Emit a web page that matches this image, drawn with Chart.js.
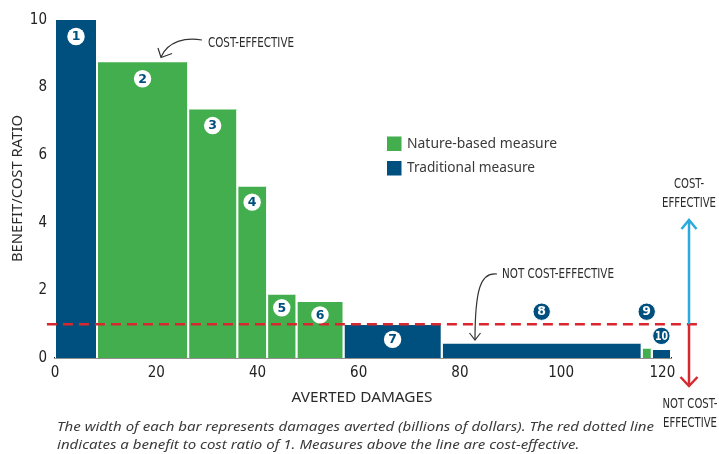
<!DOCTYPE html>
<html>
<head>
<meta charset="utf-8">
<script src="https://cdn.jsdelivr.net/npm/chart.js@4/dist/chart.umd.min.js"></script>
<style>
  html, body { margin: 0; padding: 0; background: #ffffff; }
  #wrap { width: 719px; height: 454px; }
</style>
</head>
<body>
<div id="wrap"><canvas id="c" width="719" height="454"></canvas></div>
<script>
// ---- data ----
const measureLabels = ['1', '2', '3', '4', '5', '6', '7', '8', '9', '10'];
const avertedDamages = [8.3, 18.0, 9.7, 5.9, 5.8, 9.3, 19.4, 39.5, 2.0, 3.8]; // bar widths (billions $)
const benefitCostRatio = [10, 8.75, 7.35, 5.07, 1.87, 1.66, 0.98, 0.42, 0.27, 0.24];
const measureType = ['traditional', 'nature', 'nature', 'nature', 'nature', 'nature', 'traditional', 'traditional', 'nature', 'traditional'];
const xTicks = [0, 20, 40, 60, 80, 100, 120];
const yTicks = [0, 2, 4, 6, 8, 10];
const breakEvenRatio = 1;
const typeNames = { nature: 'Nature-based measure', traditional: 'Traditional measure' };

// ---- styles ----
const GREEN = '#43ae4d';
const BLUE = '#00507f';
const RED = '#d7282f';
const LIGHTBLUE = '#2aa9df';
const TEXT = '#2b2b2b';
const COND = "'Liberation Sans Narrow', 'DejaVu Sans Condensed', 'Roboto Condensed', sans-serif";
const SANS = "'Noto Sans', 'Open Sans', sans-serif";

// cumulative starts
const starts = [];
let acc = 0;
for (let i = 0; i < avertedDamages.length; i++) { starts.push(acc); acc += avertedDamages[i]; }
const xMax = acc;

const barDatasets = avertedDamages.map((w, i) => {
  const x0 = starts[i], x1 = starts[i] + w, h = benefitCostRatio[i];
  const col = measureType[i] === 'nature' ? GREEN : BLUE;
  return {
    label: typeNames[measureType[i]],
    data: [{ x: x0, y: 0 }, { x: x0, y: h }, { x: x1, y: h }, { x: x1, y: 0 }],
    backgroundColor: col,
    borderColor: '#ffffff',
    borderWidth: 2,
    fill: 'origin',
    pointRadius: 0,
    tension: 0,
    segment: { borderColor: ctx => ctx.p0DataIndex === 1 ? 'rgba(0,0,0,0)' : '#ffffff' },
    order: 2
  };
});

const refLine = {
  label: 'Benefit/cost = 1',
  data: [{ x: -1.6, y: breakEvenRatio }, { x: 126.9, y: breakEvenRatio }],
  borderColor: RED,
  borderWidth: 2.5,
  borderDash: [10, 6],
  pointRadius: 0,
  fill: false,
  clip: false,
  order: 1
};

// badge styles: vertical offset (px) from bar top, and variant
const badgeStyle = [
  { dy: 16.5, inv: false }, { dy: 16.5, inv: false }, { dy: 16, inv: false }, { dy: 15.5, inv: false },
  { dy: 13, inv: false }, { dy: 13, inv: false }, { dy: 14.5, inv: false },
  { above: 12.5, inv: true }, { above: 12.5, inv: true }, { dy: -14, inv: true }
];

function textW(ctx, text, x, y, w, align) {
  const m = ctx.measureText(text).width;
  const s = w / m;
  ctx.save();
  ctx.translate(x, y);
  ctx.scale(s, 1);
  ctx.textAlign = align || 'left';
  ctx.fillText(text, 0, 0);
  ctx.restore();
}

function arrowHead(ctx, pts) {
  ctx.beginPath();
  ctx.moveTo(pts[0][0], pts[0][1]);
  ctx.lineTo(pts[1][0], pts[1][1]);
  ctx.lineTo(pts[2][0], pts[2][1]);
  ctx.stroke();
}

const decor = {
  id: 'decor',
  afterDatasetsDraw(chart) {
    const ctx = chart.ctx;
    const xs = chart.scales.x, ys = chart.scales.y;
    // badges
    ctx.save();
    measureLabels.forEach((lab, i) => {
      const st = badgeStyle[i];
      const cx = xs.getPixelForValue(starts[i] + avertedDamages[i] / 2);
      let cy;
      if (st.above !== undefined) cy = ys.getPixelForValue(breakEvenRatio) - st.above;
      else cy = ys.getPixelForValue(benefitCostRatio[i]) + st.dy;
      ctx.beginPath();
      ctx.arc(cx, cy, 8.7, 0, Math.PI * 2);
      ctx.fillStyle = st.inv ? BLUE : '#ffffff';
      ctx.fill();
      if (st.inv) { ctx.lineWidth = 1; ctx.strokeStyle = '#ffffff'; ctx.stroke(); }
      ctx.fillStyle = st.inv ? '#ffffff' : BLUE;
      ctx.font = "bold 12.5px 'DejaVu Sans', sans-serif";
      ctx.textAlign = 'center';
      ctx.textBaseline = 'middle';
      if (lab.length > 1) textW(ctx, lab, cx, cy + 0.5, 13, 'center');
      else ctx.fillText(lab, cx, cy + 0.5);
    });
    ctx.restore();
  },
  afterDraw(chart) {
    const ctx = chart.ctx;
    ctx.save();
    ctx.fillStyle = TEXT;
    ctx.textBaseline = 'middle';

    // axis titles
    ctx.font = "14px " + SANS;
    ctx.save();
    ctx.translate(18, 188.5);
    ctx.rotate(-Math.PI / 2);
    textW(ctx, 'BENEFIT/COST RATIO', 0, 0, 147, 'center');
    ctx.restore();
    textW(ctx, 'AVERTED DAMAGES', 362, 398, 141, 'center');

    // caption
    ctx.fillStyle = '#3a3a3a';
    ctx.font = "italic 12.5px " + SANS;
    const l1 = 'The width of each bar represents damages averted (billions of dollars). The red dotted line';
    const l2 = 'indicates a benefit to cost ratio of 1. Measures above the line are cost-effective.';
    const s = 597 / ctx.measureText(l1).width;
    ctx.save();
    ctx.translate(57, 0);
    ctx.scale(s, 1);
    ctx.textAlign = 'left';
    ctx.fillText(l1, 0, 427);
    ctx.fillText(l2, 0, 445);
    ctx.restore();

    // legend
    const legend = [['nature', GREEN, 143.5], ['traditional', BLUE, 168]];
    ctx.font = "14px " + SANS;
    legend.forEach(([k, col, y]) => {
      ctx.fillStyle = col;
      ctx.fillRect(387, y - 7, 14.5, 14.5);
      ctx.fillStyle = '#3a3a3a';
      textW(ctx, typeNames[k], 407, y + 0.5, k === 'nature' ? 150 : 128, 'left');
    });

    // annotations
    ctx.fillStyle = TEXT;
    ctx.font = "14px " + COND;
    textW(ctx, 'COST-EFFECTIVE', 208, 43, 86, 'left');
    textW(ctx, 'NOT COST-EFFECTIVE', 502, 274.5, 112, 'left');
    ctx.strokeStyle = '#333333';
    ctx.lineWidth = 1.2;
    ctx.beginPath();
    ctx.moveTo(202, 40);
    ctx.bezierCurveTo(186, 37, 168, 41, 161, 57);
    ctx.stroke();
    arrowHead(ctx, [[158, 48], [161, 57.5], [172, 53.5]]);
    ctx.beginPath();
    ctx.moveTo(497, 274);
    ctx.bezierCurveTo(481, 272, 475, 288, 475, 340);
    ctx.stroke();
    arrowHead(ctx, [[469.5, 333], [475, 340], [480.5, 333]]);

    // right side arrows
    const yOne = chart.scales.y.getPixelForValue(breakEvenRatio);
    ctx.lineWidth = 2.5;
    ctx.lineCap = 'butt';
    ctx.strokeStyle = LIGHTBLUE;
    ctx.beginPath(); ctx.moveTo(689, yOne); ctx.lineTo(689, 220); ctx.stroke();
    arrowHead(ctx, [[681.5, 229], [689, 220], [696.5, 229]]);
    ctx.strokeStyle = RED;
    ctx.beginPath(); ctx.moveTo(689, yOne); ctx.lineTo(689, 386); ctx.stroke();
    arrowHead(ctx, [[680.5, 377], [689, 386], [697.5, 377]]);
    ctx.fillStyle = TEXT;
    ctx.font = "14px " + COND;
    textW(ctx, 'COST-', 689, 184, 30, 'center');
    textW(ctx, 'EFFECTIVE', 689, 203.5, 54, 'center');
    textW(ctx, 'NOT COST-', 690, 404, 55, 'center');
    textW(ctx, 'EFFECTIVE', 690, 423.5, 54, 'center');
    ctx.restore();
  }
};

new Chart(document.getElementById('c'), {
  type: 'line',
  data: { datasets: [...barDatasets, refLine] },
  options: {
    responsive: false,
    animation: false,
    devicePixelRatio: 1,
    layout: { padding: { top: 20, right: 48, left: 0, bottom: 0 } },
    plugins: { legend: { display: false }, tooltip: { enabled: false } },
    elements: { line: { borderJoinStyle: 'miter' } },
    scales: {
      x: {
        type: 'linear',
        min: 0,
        max: xMax,
        z: 1,
        afterFit: s => { s.height = 96; },
        afterBuildTicks: s => { s.ticks = xTicks.map(v => ({ value: v })); },
        grid: { display: false, drawTicks: false },
        border: { display: true, color: '#222222', width: 1.5 },
        ticks: { color: '#222222', padding: 6, font: { family: COND, size: 15 }, includeBounds: false }
      },
      y: {
        type: 'linear',
        min: 0,
        max: 10,
        z: 1,
        afterFit: s => { s.width = 55; },
        afterBuildTicks: s => { s.ticks = yTicks.map(v => ({ value: v })); },
        grid: { display: false, drawTicks: false },
        border: { display: true, color: '#9aa8b3', width: 1, dash: [1, 1.5] },
        ticks: { color: '#222222', padding: 8, font: { family: COND, size: 15 } }
      }
    }
  },
  plugins: [decor]
});
</script>
</body>
</html>
